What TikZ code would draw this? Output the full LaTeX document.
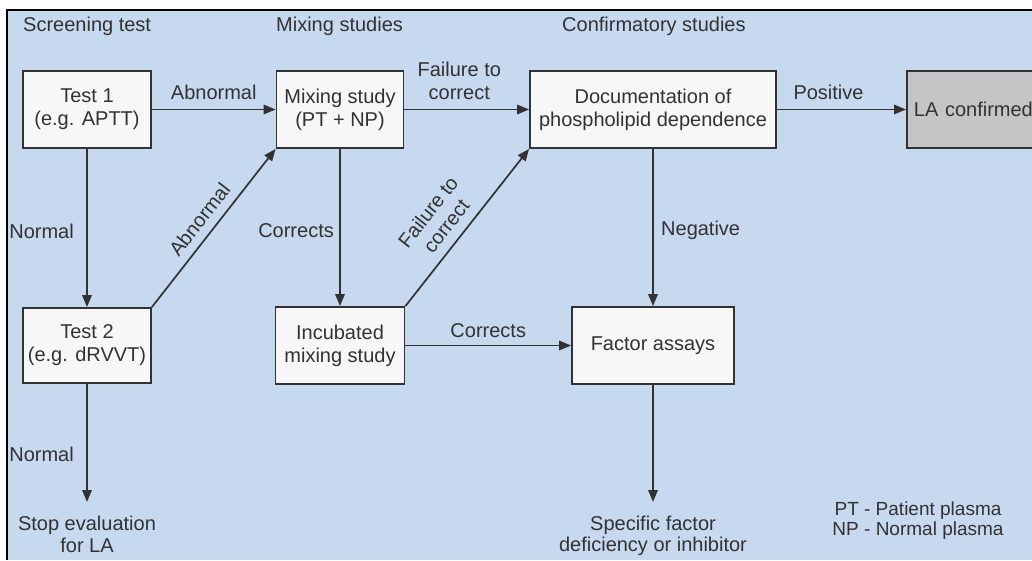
\documentclass[tikz,border=0pt]{standalone}
\usepackage{fontspec}
\setmainfont{Liberation Sans}
\usetikzlibrary{arrows.meta,positioning}
\definecolor{scanblue}{RGB}{199,217,238}
\definecolor{confirmgray}{RGB}{196,197,199}
\definecolor{inkgray}{RGB}{50,50,50}

\begin{document}
\begin{tikzpicture}[x=1pt, y=-1pt,
  every node/.style={font=\fontsize{20}{23}\selectfont, text=inkgray},
  stepbox/.style={draw=inkgray, line width=1.8pt, fill=white!97!black, align=center, inner sep=0pt, minimum height=77pt},
  flow/.style={draw=inkgray, line width=1.7pt, -{Triangle[length=12pt,width=9.5pt]}},
  endtext/.style={align=center, anchor=north, inner sep=0pt}]
  % page, with the blue scan and its black frame
  \useasboundingbox (0,0) rectangle (1032,560);
  \clip (0,0) rectangle (1032,560);
  \fill[white] (0,0) rectangle (1032,560);
  \fill[scanblue] (7,10) rectangle (1032,560);
  \draw[black, line width=2pt] (7,560) -- (7,10) -- (1032,10);
  % row heights
  \def\rowtop{109.5}
  \def\rowbot{345.5}
  % column headings
  \node[anchor=west, inner sep=0pt] (hscreen) at (23,26) {Screening test};
  \node[anchor=west, inner sep=0pt] (hmix) at (276,26) {Mixing studies};
  \node[anchor=west, inner sep=0pt] (hconf) at (562,26) {Confirmatory studies};
  % boxes
  \node[stepbox, minimum width=128pt] (test1) at (87,\rowtop) {Test 1\\(e.g. APTT)};
  \node[stepbox, minimum width=127pt] (mix) at (340,\rowtop) {Mixing study\\(PT + NP)};
  \node[stepbox, minimum width=246pt] (doc) at (653,\rowtop) {Documentation of\\phospholipid dependence};
  \node[stepbox, minimum width=140pt, fill=confirmgray, anchor=west, align=left, text width=126pt] (la) at (906,\rowtop) {LA confirmed};
  \node[stepbox, minimum width=128pt, minimum height=75pt] (test2) at (87,\rowbot) {Test 2\\(e.g. dRVVT)};
  \node[stepbox, minimum width=129pt] (incub) at (340,\rowbot) {Incubated\\mixing study};
  \node[stepbox, minimum width=162pt] (factor) at (653,\rowbot) {Factor assays};
  % end points and legend
  \node[endtext, font=\fontsize{20}{22}\selectfont] (stop) at (87,516) {Stop evaluation\\for LA};
  \node[endtext, font=\fontsize{20}{20.5}\selectfont] (specific) at (653,516) {Specific factor\\deficiency or inhibitor};
  \node[align=center, inner sep=0pt, font=\fontsize{19}{20}\selectfont] (legend) at (918,521) {PT - Patient plasma\\NP - Normal plasma};
  % connectors
  \draw[flow] (test1) -- node[above=6pt] (labn1) {Abnormal} (mix);
  \draw[flow] (mix) -- node[above=6pt, pos=0.44, align=center] (lfail1) {Failure to\\correct} (doc);
  \draw[flow] (doc) -- node[above=6pt, pos=0.4] (lpos) {Positive} (la);
  \draw[flow] (test1) -- node[left=9pt, pos=0.52] (lnorm1) {Normal} (test2);
  \draw[flow] (test2.north east) -- node[sloped, above=5pt, pos=0.49] (labn2) {Abnormal} (mix.south west);
  \draw[flow] (mix) -- node[left=2pt, pos=0.52] (lcorr1) {Corrects} (incub);
  \draw[flow] (incub.north east) -- node[sloped, above=6pt, pos=0.44, align=center] (lfail2) {Failure to\\correct} (doc.south west);
  \draw[flow] (doc) -- node[right=4pt, pos=0.52] (lneg) {Negative} (factor);
  \draw[flow] (incub) -- node[above=4pt] (lcorr2) {Corrects} (factor);
  \draw[flow, shorten >=14pt] (test2) -- node[left=9pt, pos=0.53] (lnorm2) {Normal} (stop);
  \draw[flow, shorten >=14pt] (factor) -- (specific);
\end{tikzpicture}
\end{document}
